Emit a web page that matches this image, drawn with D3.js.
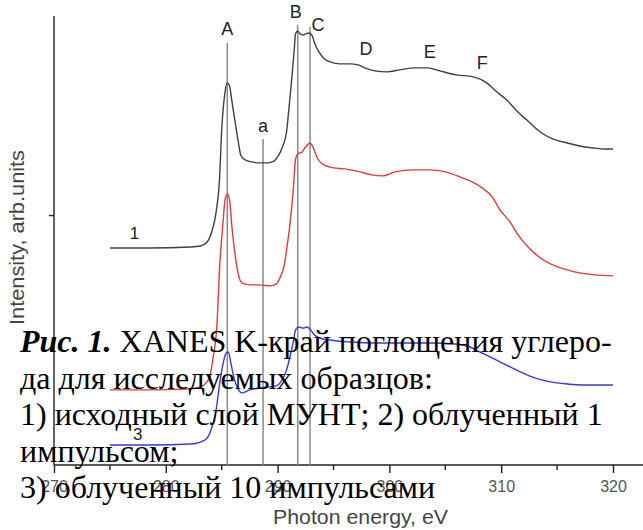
<!DOCTYPE html>
<html>
<head>
<meta charset="utf-8">
<script src="https://cdn.jsdelivr.net/npm/d3@7"></script>
<style>
  html, body { margin: 0; padding: 0; background: #fff; }
  svg { display: block; }
</style>
</head>
<body>
<svg id="chart" width="643" height="530"></svg>
<script>
// XANES C K-edge spectra, photon energy (eV) vs intensity (arb. units)
const energy1 = [275.0,278.6,282.2,283.1,283.7,284.1,284.5,284.8,285.0,285.3,285.5,285.7,285.9,286.2,286.5,286.7,287.1,287.7,288.4,289.1,289.7,290.0,290.4,290.8,291.0,291.3,291.5,291.6,291.8,292.0,292.3,292.5,292.8,293.1,293.3,293.7,294.1,294.7,295.6,296.5,297.2,297.8,298.7,299.8,300.9,302.3,303.4,304.5,306.0,307.5,308.7,309.6,310.5,311.4,312.3,313.5,314.6,315.9,317.0,318.2,319.3,320.0];
const intensity1 = [0.870,0.870,0.874,0.878,0.894,0.934,1.014,1.143,1.343,1.496,1.532,1.520,1.463,1.375,1.291,1.243,1.223,1.215,1.211,1.211,1.219,1.235,1.271,1.335,1.423,1.564,1.672,1.728,1.740,1.728,1.724,1.728,1.732,1.720,1.692,1.656,1.632,1.616,1.608,1.608,1.604,1.592,1.580,1.576,1.584,1.592,1.592,1.580,1.564,1.556,1.532,1.496,1.463,1.419,1.383,1.335,1.307,1.291,1.279,1.271,1.267,1.267];

const energy2 = [275.0,278.6,282.2,283.1,283.5,283.9,284.2,284.6,284.8,285.1,285.3,285.5,285.7,285.9,286.2,286.5,286.8,287.5,288.4,289.3,289.9,290.2,290.6,290.8,291.1,291.4,291.6,291.8,292.2,292.5,292.9,293.2,293.5,294.0,295.0,296.0,297.4,298.4,299.4,300.5,302.1,303.6,305.0,306.3,307.4,308.3,309.2,309.9,310.8,311.4,312.4,313.5,314.6,315.9,317.0,318.4,320.0];
const intensity2 = [0.301,0.301,0.305,0.313,0.325,0.349,0.421,0.581,0.782,0.962,1.063,1.087,1.063,0.962,0.842,0.762,0.730,0.722,0.722,0.718,0.726,0.750,0.802,0.862,0.962,1.103,1.223,1.247,1.255,1.275,1.291,1.271,1.235,1.207,1.191,1.187,1.175,1.163,1.159,1.175,1.183,1.183,1.175,1.155,1.135,1.111,1.075,1.022,0.974,0.930,0.874,0.830,0.802,0.782,0.770,0.762,0.758];

const energy3 = [275.0,278.6,282.2,283.1,283.7,284.1,284.5,284.8,285.1,285.4,285.6,285.8,286.1,286.5,286.8,287.5,288.4,289.3,289.9,290.4,290.8,291.1,291.4,291.6,291.9,292.3,292.6,292.9,293.3,293.8,294.7,296.5,298.7,300.9,303.6,305.9,307.2,308.1,309.0,309.9,310.8,311.9,313.0,314.4,315.9,317.5,320.0];
const intensity3 = [0.080,0.080,0.084,0.092,0.108,0.148,0.221,0.321,0.401,0.449,0.453,0.413,0.349,0.301,0.289,0.301,0.309,0.313,0.317,0.341,0.381,0.433,0.493,0.541,0.553,0.549,0.553,0.545,0.521,0.509,0.501,0.493,0.489,0.489,0.489,0.485,0.473,0.453,0.433,0.413,0.393,0.369,0.349,0.333,0.325,0.321,0.321];

const seriesColors = ["#404040", "#e03a3a", "#3a3ad6"];
const seriesNames = ["1", "3"];
const seriesNameEnergy = [277.2, 277.5];
const seriesNameIntensity = [0.905, 0.102];

// Marked features: vertical guide lines
const lineNames = ["A", "a", "B", "C"];
const lineEnergy = [285.5, 288.7, 291.8, 292.9];
const lineTop = [1.692, 1.307, 1.764, 1.756];

// Feature letters without guide lines
const markNames = ["D", "E", "F"];
const markEnergy = [297.9, 303.6, 308.3];
const markIntensity = [1.644, 1.632, 1.588];

const xTicks = [270, 280, 290, 300, 310, 320];
const xMinorTicks = [275, 285, 295, 305, 315];
const yTicks = [1];

const captionLines = [
  ["Рис. 1.", " XANES K-край поглощения углеро-"],
  ["", "да для исследуемых образцов:"],
  ["", "1) исходный слой МУНТ; 2) облученный 1"],
  ["", "импульсом;"],
  ["", "3) облученный 10 импульсами"]
];

const svg = d3.select("#chart");
const x = d3.scaleLinear().domain([270, 320]).range([54, 613]);
const y = d3.scaleLinear().domain([0, 1.8]).range([465, 16]);
const axisFont = "Liberation Sans, Arial, sans-serif";

// y axis
svg.append("line")
  .attr("x1", x(270)).attr("x2", x(270))
  .attr("y1", y(1.8)).attr("y2", y(0))
  .attr("stroke", "#222").attr("stroke-width", 1.4);
svg.selectAll(".ytick").data(yTicks).join("line")
  .attr("x1", x(270) - 5).attr("x2", x(270))
  .attr("y1", d => y(d)).attr("y2", d => y(d))
  .attr("stroke", "#222").attr("stroke-width", 1.4);

// x axis
const xAxis = d3.axisBottom(x).tickValues(xTicks).tickSize(8).tickPadding(8).tickFormat(d3.format("d"));
const gx = svg.append("g").attr("transform", `translate(0,${y(0)})`).call(xAxis);
gx.select(".domain").attr("d", `M${x(270)},0H643`).attr("stroke", "#222").attr("stroke-width", 1.4);
gx.selectAll(".tick line").attr("stroke", "#222").attr("stroke-width", 1.4);
gx.selectAll(".tick text").attr("fill", "#555").attr("font-size", 16).attr("font-family", axisFont);
gx.selectAll(".minor").data(xMinorTicks).join("line")
  .attr("class", "minor")
  .attr("x1", d => x(d)).attr("x2", d => x(d))
  .attr("y1", 0).attr("y2", 5)
  .attr("stroke", "#222").attr("stroke-width", 1.4);

// axis titles
svg.append("text")
  .attr("x", 273).attr("y", 524)
  .attr("textLength", 175).attr("lengthAdjust", "spacingAndGlyphs")
  .attr("font-family", axisFont).attr("font-size", 20).attr("fill", "#444")
  .text("Photon energy, eV");
svg.append("text")
  .attr("transform", "translate(24,325) rotate(-90)")
  .attr("textLength", 175).attr("lengthAdjust", "spacingAndGlyphs")
  .attr("font-family", axisFont).attr("font-size", 20).attr("fill", "#444")
  .text("Intensity, arb.units");

// guide lines
svg.selectAll(".guide").data(lineNames).join("line")
  .attr("class", "guide")
  .attr("x1", (d, i) => x(lineEnergy[i])).attr("x2", (d, i) => x(lineEnergy[i]))
  .attr("y1", (d, i) => y(lineTop[i])).attr("y2", y(0))
  .attr("stroke", "#8a8a8a").attr("stroke-width", 1.5);

// spectra
const line = d3.line().x(d => x(d[0])).y(d => y(d[1])).curve(d3.curveMonotoneX);
const spectra = [
  d3.zip(energy1, intensity1),
  d3.zip(energy2, intensity2),
  d3.zip(energy3, intensity3)
];
svg.selectAll(".spectrum").data(spectra).join("path")
  .attr("class", "spectrum")
  .attr("d", line)
  .attr("fill", "none")
  .attr("stroke", (d, i) => seriesColors[i])
  .attr("stroke-width", 1.4);

// letters over guide lines
const letterFont = "Liberation Sans, Arial, sans-serif";
const letterOffset = { "A": 8, "a": 7, "B": 7, "C": -4 };
const letterDx = { "A": 0, "a": 0, "B": -2, "C": 8 };
svg.selectAll(".gl").data(lineNames).join("text")
  .attr("class", "gl")
  .attr("x", (d, i) => x(lineEnergy[i]) + letterDx[d])
  .attr("y", (d, i) => y(lineTop[i]) - letterOffset[d])
  .attr("text-anchor", "middle")
  .attr("font-family", letterFont).attr("font-size", 18).attr("fill", "#222")
  .text(d => d);
svg.selectAll(".ml").data(markNames).join("text")
  .attr("class", "ml")
  .attr("x", (d, i) => x(markEnergy[i]))
  .attr("y", (d, i) => y(markIntensity[i]))
  .attr("text-anchor", "middle")
  .attr("font-family", letterFont).attr("font-size", 18).attr("fill", "#222")
  .text(d => d);
svg.selectAll(".sn").data(seriesNames).join("text")
  .attr("class", "sn")
  .attr("x", (d, i) => x(seriesNameEnergy[i]))
  .attr("y", (d, i) => y(seriesNameIntensity[i]))
  .attr("text-anchor", "middle")
  .attr("font-family", letterFont).attr("font-size", 17).attr("fill", "#222")
  .text(d => d);

// figure caption
const cap = svg.append("g")
  .attr("font-family", "Liberation Serif, 'Times New Roman', serif")
  .attr("font-size", 32).attr("fill", "#000");
captionLines.forEach((parts, i) => {
  const t = cap.append("text").attr("x", 20).attr("y", 352 + i * 36.5);
  if (parts[0]) t.append("tspan").attr("font-weight", "bold").attr("font-style", "italic").text(parts[0]);
  t.append("tspan").text(parts[1]);
});
</script>
</body>
</html>
